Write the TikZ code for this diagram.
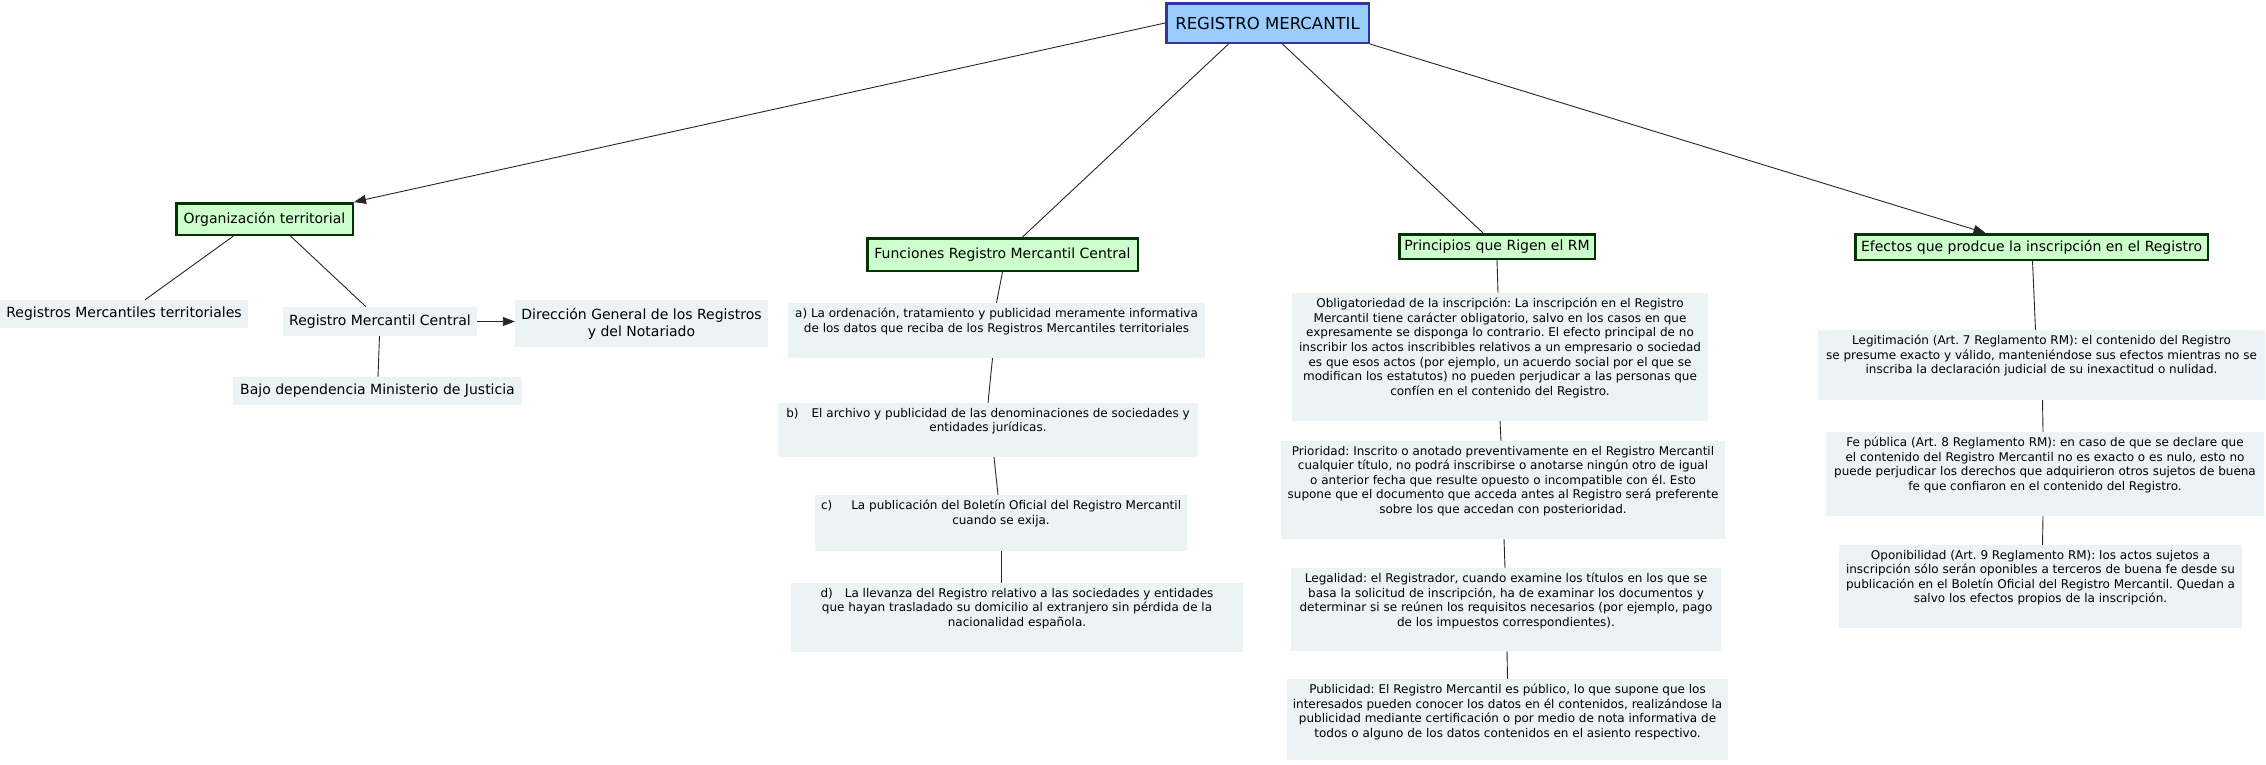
\documentclass[tikz,border=0pt]{standalone}
\usepackage{fontspec}
\setmainfont{DejaVu Sans}
\frenchspacing
\usetikzlibrary{arrows.meta,shapes}
\definecolor{rootfill}{HTML}{99CCFF}
\definecolor{rootline}{HTML}{333399}
\definecolor{topicfill}{HTML}{CCFFCC}
\definecolor{topicline}{HTML}{003300}
\definecolor{notefill}{HTML}{ECF3F5}
\tikzstyle{rootbox}=[draw=rootline,line width=2.5pt,fill=rootfill,inner sep=0pt,font=\fontsize{16.5}{19}\selectfont]
\tikzstyle{topic}=[draw=topicline,line width=2.5pt,fill=topicfill,inner sep=0pt,font=\fontsize{14}{17}\selectfont]
\tikzstyle{concept}=[fill=notefill,inner sep=0pt,align=center,font=\fontsize{14}{17}\selectfont]
\tikzstyle{note}=[fill=notefill,inner sep=0pt,font=\fontsize{12}{14.6}\selectfont]
\tikzstyle{edge}=[draw,line width=0.9pt,black!85]
\tikzstyle{arrowedge}=[edge,-{Triangle[length=12pt,width=9pt]}]
\newcommand{\notetext}[3]{\parbox[c][#2pt][t]{#1pt}{\centering\vspace*{5pt}#3}}

\begin{document}
\begin{tikzpicture}[x=1pt,y=-1pt]
    \useasboundingbox (0,0) rectangle (2266,764);
    % Root and the four main topics
    \node[rootbox,minimum width=202.5pt,minimum height=39.5pt] (root) at (1267.5,23) {REGISTRO MERCANTIL};
    \node[topic,minimum width=176.5pt,minimum height=31.5pt] (org) at (264.5,219) {Organización territorial};
    \node[topic,minimum width=270.5pt,minimum height=32.5pt] (fun) at (1002.5,254.5) {Funciones Registro Mercantil Central};
    \node[topic,minimum width=195.5pt,minimum height=24.5pt] (prin) at (1497,246.5) {Principios que Rigen el RM};
    \node[topic,minimum width=352.5pt,minimum height=25.5pt] (efe) at (2031.5,247) {Efectos que prodcue la inscripción en el Registro};

    % Organizacion territorial
    \node[concept,minimum width=248pt,minimum height=28pt] (rmt) at (124,314) {Registros Mercantiles territoriales};
    \node[concept,minimum width=194pt,minimum height=29pt] (rmc) at (380,321.5) {Registro Mercantil Central};
    \node[concept,minimum width=253pt,minimum height=47pt] (dgrn) at (641.5,323.5) {Dirección General de los Registros\\y del Notariado};
    \node[concept,minimum width=289pt,minimum height=28pt] (bajo) at (377.5,391) {Bajo dependencia Ministerio de Justicia};

    % Funciones
    \node[note] (fa) at (996.5,330.5) {\notetext{417}{55}{a) La ordenación, tratamiento y publicidad meramente informativa\\de los datos que reciba de los Registros Mercantiles territoriales}};
    \node[note] (fb) at (988,430) {\notetext{420}{54}{b)\hspace{13pt}El archivo y publicidad de las denominaciones de sociedades y\\entidades jurídicas.}};
    \node[note] (fc) at (1001,523) {\notetext{372}{56}{c)\hspace{19pt}La publicación del Boletín Oficial del Registro Mercantil\\cuando se exija.}};
    \node[note] (fd) at (1017,617.5) {\notetext{452}{69}{d)\hspace{12pt}La llevanza del Registro relativo a las sociedades y entidades\\que hayan trasladado su domicilio al extranjero sin pérdida de la\\nacionalidad española.}};

    % Principios
    \node[note] (pa) at (1500,357) {\notetext{416}{128}{Obligatoriedad de la inscripción: La inscripción en el Registro\\Mercantil tiene carácter obligatorio, salvo en los casos en que\\expresamente se disponga lo contrario. El efecto principal de no\\inscribir los actos inscribibles relativos a un empresario o sociedad\\es que esos actos (por ejemplo, un acuerdo social por el que se\\modifican los estatutos) no pueden perjudicar a las personas que\\confíen en el contenido del Registro.}};
    \node[note] (pb) at (1503,490) {\notetext{444}{98}{Prioridad: Inscrito o anotado preventivamente en el Registro Mercantil\\cualquier título, no podrá inscribirse o anotarse ningún otro de igual\\o anterior fecha que resulte opuesto o incompatible con él. Esto\\supone que el documento que acceda antes al Registro será preferente\\sobre los que accedan con posterioridad.}};
    \node[note] (pc) at (1506,609.5) {\notetext{430}{83}{Legalidad: el Registrador, cuando examine los títulos en los que se\\basa la solicitud de inscripción, ha de examinar los documentos y\\determinar si se reúnen los requisitos necesarios (por ejemplo, pago\\de los impuestos correspondientes).}};
    \node[note] (pd) at (1507.5,719.5) {\notetext{441}{81}{Publicidad: El Registro Mercantil es público, lo que supone que los\\interesados pueden conocer los datos en él contenidos, realizándose la\\publicidad mediante certificación o por medio de nota informativa de\\todos o alguno de los datos contenidos en el asiento respectivo.}};

    % Efectos
    \node[note] (ea) at (2041.5,365) {\notetext{447}{70}{Legitimación (Art. 7 Reglamento RM): el contenido del Registro\\se presume exacto y válido, manteniéndose sus efectos mientras no se\\inscriba la declaración judicial de su inexactitud o nulidad.}};
    \node[note] (eb) at (2045,474) {\notetext{438}{84}{Fe pública (Art. 8 Reglamento RM): en caso de que se declare que\\el contenido del Registro Mercantil no es exacto o es nulo, esto no\\puede perjudicar los derechos que adquirieron otros sujetos de buena\\fe que confiaron en el contenido del Registro.}};
    \node[note] (ec) at (2040.5,586.5) {\notetext{403}{83}{Oponibilidad (Art. 9 Reglamento RM): los actos sujetos a\\inscripción sólo serán oponibles a terceros de buena fe desde su\\publicación en el Boletín Oficial del Registro Mercantil. Quedan a\\salvo los efectos propios de la inscripción.}};

    % Connect the root with the topics
    \path[arrowedge] (root.west) -- (org.north east);
    \path[edge] ([xshift=-39pt]root.south) -- ([xshift=20pt]fun.north);
    \path[edge] ([xshift=15pt]root.south) -- ([xshift=-14pt]prin.north);
    \path[arrowedge] (root.south east) -- ([xshift=-46pt]efe.north);

    % Organizacion territorial branch
    \path[edge] ([xshift=-31pt]org.south) -- ([xshift=21pt]rmt.north);
    \path[edge] ([xshift=26pt]org.south) -- ([xshift=-14pt]rmc.north);
    \path[arrowedge] (rmc.east) -- (rmc.east -| dgrn.west);
    \path[edge] (rmc) -- (bajo);

    % Connect the chains below each topic
    \foreach \source/\xs/\dest/\xd in {fun/0/fa/0, fa/-4/fb/0, fb/6/fc/-3, fc/0/fd/-16, prin/0/pa/-2, pa/0/pb/-2, pb/1/pc/-1, pc/1/pd/0, efe/1/ea/-6, ea/1/eb/-2, eb/-2/ec/2}
        \path[edge] ([xshift=\xs pt]\source.south) -- ([xshift=\xd pt]\dest.north);
\end{tikzpicture}
\end{document}
